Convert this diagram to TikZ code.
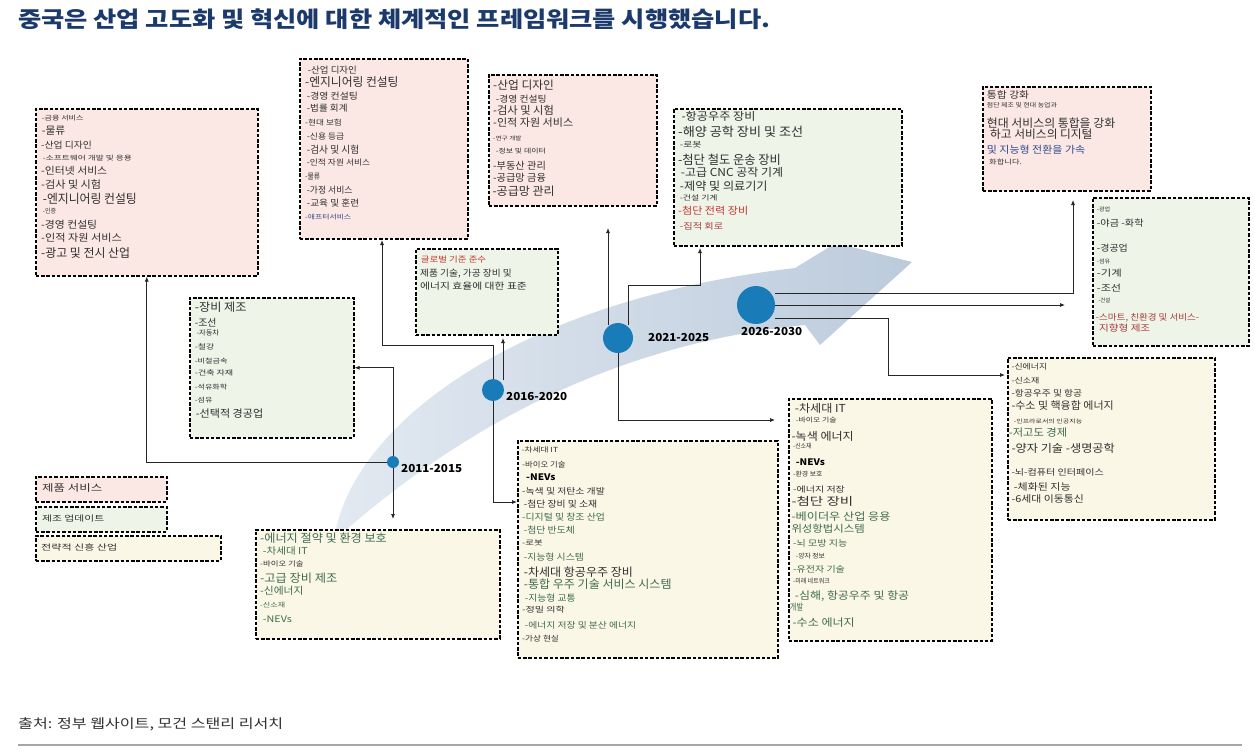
\documentclass[tikz,border=0pt]{standalone}
\usepackage{fontspec}
\setmainfont{Noto Sans CJK KR}
\usepackage{graphicx}
\usetikzlibrary{arrows.meta}
\definecolor{pinkf}{HTML}{FBE8E4}
\definecolor{greenf}{HTML}{EEF4E8}
\definecolor{yellowf}{HTML}{FBF7E7}
\definecolor{ink}{HTML}{303030}
\definecolor{gtx}{HTML}{3D6B50}
\definecolor{rtx}{HTML}{C8352E}
\definecolor{brtx}{HTML}{A83A3A}
\definecolor{btx}{HTML}{2F4A8A}
\definecolor{dotblue}{HTML}{1A7BB9}
\definecolor{bandL}{HTML}{E2E9F1}
\definecolor{bandR}{HTML}{BCCBDC}
\definecolor{titleblue}{HTML}{1B3A6B}
\tikzset{
  dbox/.style={draw=black, line width=1.5pt, dash pattern=on 3.5pt off 1.8pt, anchor=north west, inner sep=0pt},
  pinkbox/.style={dbox, fill=pinkf},
  greenbox/.style={dbox, fill=greenf},
  yellowbox/.style={dbox, fill=yellowf},
  conn/.style={draw=black!85, line width=0.8pt},
  arr/.style={conn, -{Latex[length=5pt,width=4pt]}},
  dot/.style={circle, fill=dotblue, inner sep=0pt},
  yearlbl/.style={anchor=west, inner sep=0pt, text=black},
}
\newcommand\txl[7]{\node[anchor=west,inner sep=0pt,text=#6] (#1) at (#2,#3) {\resizebox{#4pt}{\height}{\fontsize{#5}{#5}\selectfont #7}};}
\begin{document}
\begin{tikzpicture}[x=1pt,y=-1pt]
\useasboundingbox (0,0) rectangle (1255,750);
\fill[white] (0,0) rectangle (1255,750);

% big swoosh arrow
\shade[left color=bandL, right color=bandR]
  (336,529) .. controls (360,420) and (520,300) .. (795,268)
  -- (836,243) -- (912,262) -- (820,345) -- (805,325)
  .. controls (600,345) and (450,440) .. (347,529) -- cycle;

% title
\txl{title}{18}{19}{752}{22}{titleblue}{\bfseries 중국은 산업 고도화 및 혁신에 대한 체계적인 프레임워크를 시행했습니다.}

% boxes
\node[pinkbox, minimum width=222pt, minimum height=167pt] (A) at (35,108) {};
\node[pinkbox, minimum width=168pt, minimum height=180pt] (B) at (299,58) {};
\node[pinkbox, minimum width=168pt, minimum height=131pt] (C) at (488,74) {};
\node[greenbox, minimum width=228pt, minimum height=137pt] (D) at (673,108) {};
\node[pinkbox, minimum width=168pt, minimum height=104pt] (E) at (982,86) {};
\node[greenbox, minimum width=156pt, minimum height=148pt] (F) at (1092,197) {};
\node[greenbox, minimum width=164pt, minimum height=140pt] (G) at (189,297) {};
\node[greenbox, minimum width=142pt, minimum height=86pt] (H) at (415,248) {};
\node[yellowbox, minimum width=244pt, minimum height=109pt] (I) at (255,529) {};
\node[yellowbox, minimum width=260pt, minimum height=217pt] (J) at (517,440) {};
\node[yellowbox, minimum width=203pt, minimum height=242pt] (K) at (788,398) {};
\node[yellowbox, minimum width=207pt, minimum height=162pt] (L) at (1007,357) {};

% legend
\node[pinkbox, minimum width=131pt, minimum height=25pt] (lg1) at (35,476) {};
\node[greenbox, minimum width=131pt, minimum height=25pt] (lg2) at (35,506) {};
\node[yellowbox, minimum width=185pt, minimum height=25pt] (lg3) at (35,535) {};
\txl{lgt1}{42}{488}{60}{9.5}{ink}{제품 서비스}
\txl{lgt2}{42}{518}{62}{8}{ink}{제조 업데이트}
\txl{lgt3}{41}{547}{76}{8}{ink}{전략적 신흥 산업}

% dots
\node[dot, minimum size=12pt] (d1) at (393,462) {};
\node[dot, minimum size=22pt] (d2) at (493,390) {};
\node[dot, minimum size=30pt] (d3) at (618,338) {};
\node[dot, minimum size=38pt] (d4) at (756,305) {};
\node[yearlbl] (y1) at (401,468) {\resizebox{61pt}{\height}{\fontsize{11}{11}\selectfont\bfseries 2011-2015}};
\node[yearlbl] (y2) at (506,396) {\resizebox{61pt}{\height}{\fontsize{11}{11}\selectfont\bfseries 2016-2020}};
\node[yearlbl] (y3) at (648,338) {\resizebox{61pt}{\height}{\fontsize{11}{11}\selectfont\bfseries 2021-2025}};
\node[yearlbl] (y4) at (741,332) {\resizebox{61pt}{\height}{\fontsize{11}{11}\selectfont\bfseries 2026-2030}};

% connectors 2011
\draw[arr] (d1.north) |- (G.east);
\draw[arr] (d1.west) -| (A.south);
\coordinate (i1) at (393,519);
\draw[arr] (d1.south) -- (i1);
% 2016
\coordinate (b1) at (382,240);
\coordinate (k2) at (493,345);
\draw[arr] (d2.north) -- (k2) -| (b1);
\coordinate (h1) at (503,338);
\coordinate (h0) at (503,380);
\draw[arr] (h0) -- (h1);
\coordinate (j1) at (517,502);
\draw[arr] (d2.south) |- (j1);
% 2021
\coordinate (c1) at (608,228);
\coordinate (c0) at (608,325);
\draw[arr] (c0) -- (c1);
\coordinate (e0) at (628,325);
\coordinate (e1) at (628,285);
\coordinate (dd) at (700,248);
\draw[arr] (e0) -- (e1) -| (dd);
\coordinate (k1) at (775,420);
\draw[arr] (d3.south) |- (k1);
% 2026
\coordinate (f0) at (775,293);
\coordinate (f1) at (1073,200);
\draw[arr] (f0) -| (f1);
\coordinate (g0) at (775,305);
\coordinate (g1) at (1065,305);
\draw[arr] (g0) -- (g1);
\coordinate (l0) at (775,318);
\coordinate (l1) at (888,318);
\coordinate (l2) at (1005,375);
\draw[arr] (l0) -- (l1) |- (l2);

% Box A
\txl{a1}{41.7}{118}{41.6}{6.5}{ink}{-금융 서비스}
\txl{a2}{41.7}{131}{23.3}{10.5}{ink}{-물류}
\txl{a3}{41}{145}{50.7}{9}{ink}{-산업 디자인}
\txl{a4}{42.7}{158}{89}{6.5}{ink}{-소프트웨어 개발 및 응용}
\txl{a5}{41}{171}{66}{10}{ink}{-인터넷 서비스}
\txl{a6}{41}{185}{60}{10.5}{ink}{-검사 및 시험}
\txl{a7}{42.7}{199}{94}{12.5}{ink}{-엔지니어링 컨설팅}
\txl{a8}{42.7}{211}{13.3}{6.5}{ink}{-인증}
\txl{a9}{41}{225}{56}{10}{ink}{-경영 컨설팅}
\txl{a10}{41}{238}{80.7}{10}{ink}{-인적 자원 서비스}
\txl{a11}{41}{253}{89}{12}{ink}{-광고 및 전시 산업}

% Box B
\txl{b1t}{307.7}{70}{49}{9}{ink}{-산업 디자인}
\txl{b2t}{305}{81.7}{93.3}{12}{ink}{-엔지니어링 컨설팅}
\txl{b3t}{306.7}{96}{51}{9}{ink}{-경영 컨설팅}
\txl{b4t}{306.7}{108}{40.7}{9}{ink}{-법률 회계}
\txl{b5t}{305}{122.7}{36.7}{7.5}{ink}{-현대 보험}
\txl{b6t}{306.7}{136}{37.3}{8}{ink}{-신용 등급}
\txl{b7t}{306.7}{149.3}{52.3}{10}{ink}{-검사 및 시험}
\txl{b8t}{306.7}{162.7}{63.3}{8}{ink}{-인적 자원 서비스}
\txl{b9t}{305}{176.7}{15}{8}{ink}{-물류}
\txl{b10t}{306.7}{190}{45.7}{9}{ink}{-가정 서비스}
\txl{b11t}{306.7}{203.3}{52.3}{9}{ink}{-교육 및 훈련}
\txl{b12t}{305}{216.7}{46}{6.5}{btx}{-애프터서비스}

% Box C
\txl{c1t}{493}{84.7}{60.7}{11.5}{ink}{-산업 디자인}
\txl{c2t}{495.7}{98.7}{50.7}{9}{ink}{-경영 컨설팅}
\txl{c3t}{493}{110.7}{60.7}{11}{ink}{-검사 및 시험}
\txl{c4t}{493}{123}{80}{10.5}{ink}{-인적 자원 서비스}
\txl{c5t}{493}{138}{28.3}{5.5}{ink}{-연구 개발}
\txl{c6t}{495.7}{150.7}{50}{6.5}{ink}{-정보 및 데이터}
\txl{c7t}{493}{165.3}{52.7}{10}{ink}{-부동산 관리}
\txl{c8t}{493}{177.3}{52.7}{10}{ink}{-공급망 금융}
\txl{c9t}{492.3}{190.7}{62.3}{11.5}{ink}{-공급망 관리}

% Box D
\txl{d1t}{681.3}{116.7}{74}{11}{ink}{-항공우주 장비}
\txl{d2t}{678}{131.7}{125}{12.5}{ink}{-해양 공학 장비 및 조선}
\txl{d3t}{679.7}{144.3}{21.7}{7.5}{ink}{-로봇}
\txl{d4t}{678}{159.3}{102.7}{12.5}{ink}{-첨단 철도 운송 장비}
\txl{d5t}{680.7}{172.3}{102.3}{11}{ink}{-고급 CNC 공작 기계}
\txl{d6t}{679.7}{186}{87.7}{11.5}{ink}{-제약 및 의료기기}
\txl{d7t}{679.7}{198.3}{37.7}{7}{ink}{-건설 기계}
\txl{d8t}{678}{211}{70}{10}{rtx}{-첨단 전력 장비}
\txl{d9t}{679.7}{226}{43.3}{8.5}{brtx}{-집적 회로}

% Box E
\txl{e1t}{986.7}{95}{42.3}{9.5}{ink}{통합 강화}
\txl{e2t}{986.7}{105}{70}{6}{ink}{첨단 제조 및 현대 농업과}
\txl{e3t}{986.7}{122.7}{128.3}{11.5}{ink}{현대 서비스의 통합을 강화}
\txl{e4t}{990}{134}{102.3}{11.5}{ink}{하고 서비스의 디지털}
\txl{e5t}{986.7}{150}{98.3}{10}{btx}{및 지능형 전환을 가속}
\txl{e6t}{989}{161.7}{32.7}{6.5}{ink}{화합니다.}

% Box F
\txl{f1t}{1096.7}{209.3}{13.3}{5.5}{ink}{-광업}
\txl{f2t}{1096.7}{222.7}{46.7}{9}{ink}{-야금 -화학}
\txl{f3t}{1096.7}{248.3}{31}{9}{ink}{-경공업}
\txl{f4t}{1096.7}{261.7}{13.3}{5.5}{ink}{-섬유}
\txl{f5t}{1096.7}{273.3}{25}{9}{ink}{-기계}
\txl{f6t}{1096.7}{288.3}{24.3}{9}{ink}{-조선}
\txl{f7t}{1098.3}{300.7}{11.7}{5.5}{ink}{-건설}
\txl{f8t}{1095.7}{317.3}{103.3}{8.5}{brtx}{-스마트, 친환경 및 서비스-}
\txl{f9t}{1099}{328.3}{51}{9}{brtx}{지향형 제조}

% Box G
\txl{g1t}{194.7}{306.7}{51.7}{11.5}{ink}{-장비 제조}
\txl{g2t}{194.7}{322.7}{21.7}{10}{ink}{-조선}
\txl{g3t}{196.3}{333.3}{22.7}{7}{ink}{-자동차}
\txl{g4t}{194.7}{347.3}{19.3}{7}{ink}{-철강}
\txl{g5t}{194.7}{360.7}{32.7}{6.5}{ink}{-비철금속}
\txl{g6t}{194.7}{373.3}{38.3}{7}{ink}{-건축 자재}
\txl{g7t}{194.7}{387.3}{32.3}{6.5}{ink}{-석유화학}
\txl{g8t}{194.7}{400}{17.7}{6.5}{ink}{-섬유}
\txl{g9t}{195.7}{414}{67.3}{10.5}{ink}{-선택적 경공업}

% Box H
\txl{h1t}{420.7}{259}{65.3}{8}{rtx}{글로벌 기준 준수}
\txl{h2t}{420}{274}{91.7}{9}{ink}{제품 기술, 가공 장비 및}
\txl{h3t}{420}{286.3}{106.7}{9}{ink}{에너지 효율에 대한 표준}

% Box I
\txl{i1t}{260}{538.3}{126.7}{11.5}{gtx}{-에너지 절약 및 환경 보호}
\txl{i2t}{262.7}{551}{44.7}{9.5}{gtx}{-차세대 IT}
\txl{i3t}{260}{564.3}{43.3}{7}{ink}{-바이오 기술}
\txl{i4t}{260}{577.7}{77.3}{11.5}{gtx}{-고급 장비 제조}
\txl{i5t}{260}{591}{43.3}{10}{gtx}{-신에너지}
\txl{i6t}{260}{605}{25}{6.5}{gtx}{-신소재}
\txl{i7t}{262.7}{619}{29}{9}{gtx}{-NEVs}

% Box J
\txl{j1t}{521.3}{450}{36.7}{7}{ink}{-차세대 IT}
\txl{j2t}{522}{464.3}{43.3}{7.5}{ink}{-바이오 기술}
\txl{j3t}{526}{477.7}{29.3}{9}{black}{\bfseries -NEVs}
\txl{j4t}{522}{491}{82.7}{8.5}{ink}{-녹색 및 저탄소 개발}
\txl{j5t}{523.7}{504.3}{73.3}{9}{ink}{-첨단 장비 및 소재}
\txl{j6t}{522}{517}{82.7}{9}{gtx}{-디지털 및 창조 산업}
\txl{j7t}{523.7}{530.3}{51}{9}{gtx}{-첨단 반도체}
\txl{j8t}{522}{543.3}{20.7}{7}{ink}{-로봇}
\txl{j9t}{523.7}{557.3}{60}{9}{gtx}{-지능형 시스템}
\txl{j10t}{523.7}{571.7}{109}{11.5}{ink}{-차세대 항공우주 장비}
\txl{j11t}{523.7}{584}{147.7}{11.5}{gtx}{-통합 우주 기술 서비스 시스템}
\txl{j12t}{524.7}{598.3}{50.7}{9}{gtx}{-지능형 교통}
\txl{j13t}{522}{610}{42.7}{7.5}{ink}{-정밀 의학}
\txl{j14t}{524.7}{625}{111.3}{8.5}{gtx}{-에너지 저장 및 분산 에너지}
\txl{j15t}{522}{638.3}{36.7}{7.5}{ink}{-가상 현실}

% Box K
\txl{k1t}{794.7}{408}{51}{11}{ink}{-차세대 IT}
\txl{k2t}{795.7}{420.3}{40.7}{6.5}{ink}{-바이오 기술}
\txl{k3t}{791.3}{436.3}{62.3}{11}{ink}{-녹색 에너지}
\txl{k4t}{793}{446.3}{18.3}{6.5}{ink}{-신소재}
\txl{k5t}{795.7}{462.3}{29}{9}{black}{\bfseries -NEVs}
\txl{k6t}{793}{474}{29.3}{6.5}{ink}{-환경 보호}
\txl{k7t}{793}{489}{51.7}{8}{ink}{-에너지 저장}
\txl{k8t}{791.3}{501.3}{61.7}{11}{ink}{-첨단 장비}
\txl{k9t}{791.3}{516.3}{99}{10.5}{gtx}{-베이더우 산업 응용}
\txl{k10t}{791.3}{529}{73.3}{10}{gtx}{위성항법시스템}
\txl{k11t}{793}{543.7}{54}{8.5}{gtx}{-뇌 모방 지능}
\txl{k12t}{795.7}{555.7}{29}{6.5}{ink}{-양자 정보}
\txl{k13t}{793}{569}{51.7}{8.5}{gtx}{-유전자 기술}
\txl{k14t}{793}{580.7}{36.7}{6.5}{ink}{-미래 네트워크}
\txl{k15t}{794.7}{595.7}{114.3}{10.5}{gtx}{-심해, 항공우주 및 항공}
\txl{k16t}{789.7}{607.3}{13.3}{9}{gtx}{개발}
\txl{k17t}{792.3}{623}{62.3}{10.5}{gtx}{-수소 에너지}

% Box L
\txl{l1t}{1011.3}{367}{35.7}{7.5}{ink}{-신에너지}
\txl{l2t}{1011.3}{380.3}{28}{7.5}{ink}{-신소재}
\txl{l3t}{1011.3}{393.7}{70.7}{8.5}{ink}{-항공우주 및 항공}
\txl{l4t}{1011.3}{406}{102.3}{10.5}{ink}{-수소 및 핵융합 에너지}
\txl{l5t}{1013.7}{421}{68.3}{5.5}{ink}{-인프라로서의 인공지능}
\txl{l6t}{1008.7}{432.7}{58.3}{10.5}{gtx}{-저고도 경제}
\txl{l7t}{1011.3}{448.7}{103.3}{11}{ink}{-양자 기술 -생명공학}
\txl{l8t}{1011.3}{472.7}{92.3}{8.5}{ink}{-뇌-컴퓨터 인터페이스}
\txl{l9t}{1013.7}{487}{56.7}{9.5}{ink}{-체화된 지능}
\txl{l10t}{1011.3}{499.3}{72.3}{9.5}{ink}{-6세대 이동통신}

% footer
\txl{src}{18}{724}{265}{13}{ink}{출처: 정부 웹사이트, 모건 스탠리 리서치}
\coordinate (fl0) at (18,745);
\coordinate (fl1) at (1242,745);
\draw[black!35, line width=1.5pt] (fl0) -- (fl1);
\end{tikzpicture}
\end{document}
